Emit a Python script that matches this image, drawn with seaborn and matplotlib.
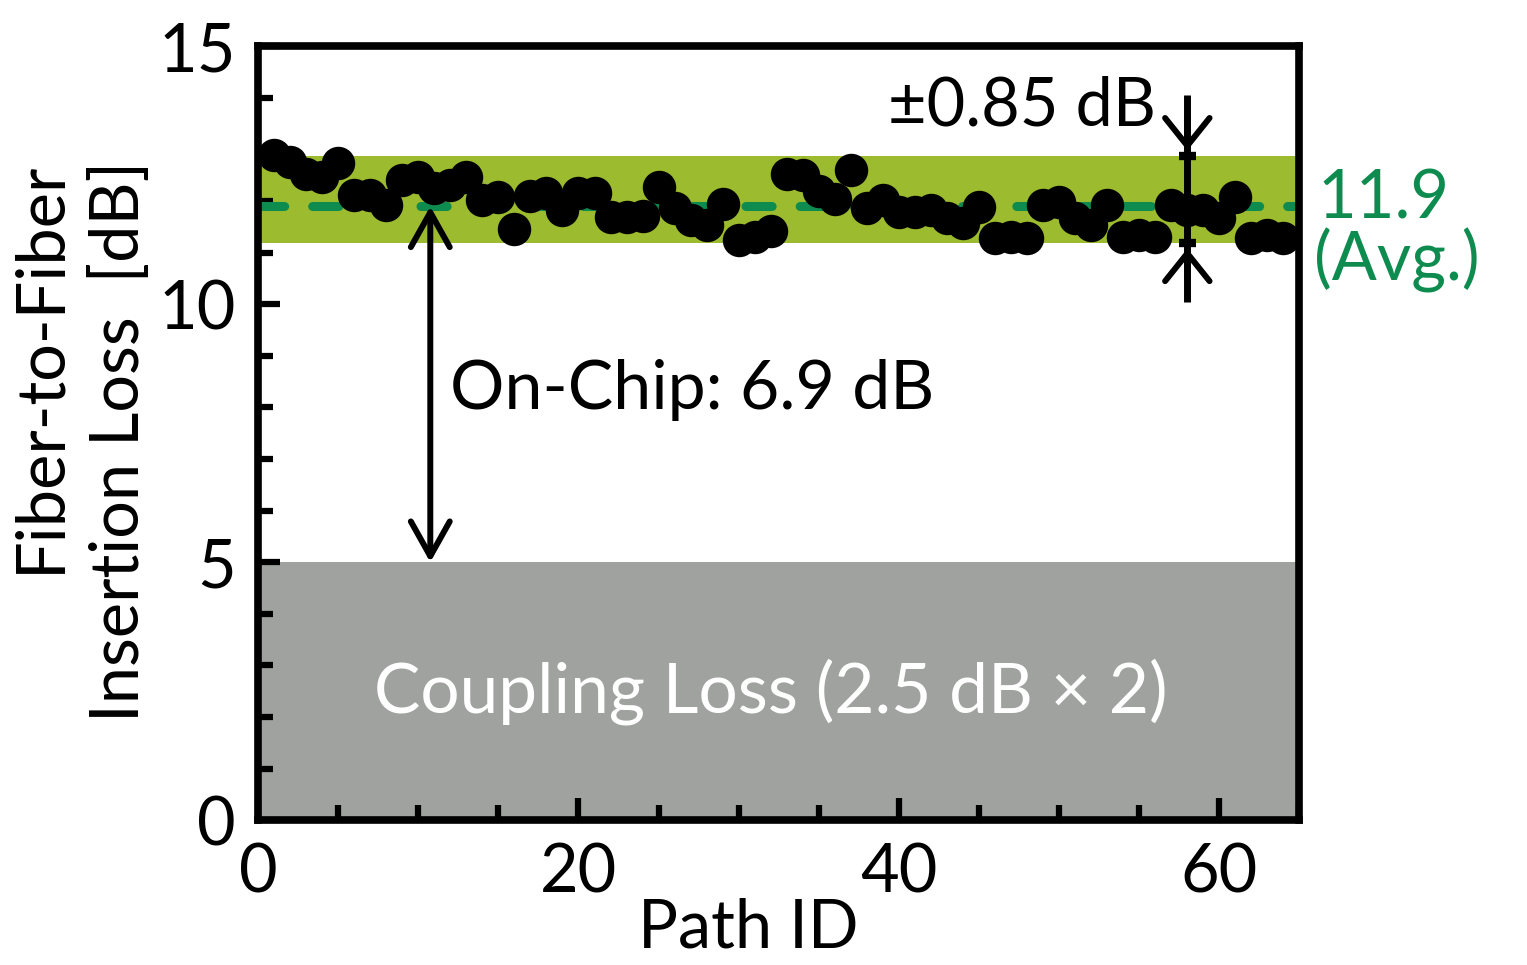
import matplotlib
matplotlib.use("Agg")
import matplotlib.pyplot as plt
from matplotlib.ticker import MultipleLocator, FixedLocator
import numpy as np
import pandas as pd
import seaborn as sns

# ---- data ----
path_id = list(range(1, 65))
loss_db = [12.90, 12.76, 12.53, 12.47, 12.73, 12.11, 12.11, 11.92, 12.40, 12.47,
           12.25, 12.31, 12.47, 12.02, 12.08, 11.45, 12.10, 12.15, 11.82, 12.15,
           12.15, 11.69, 11.69, 11.72, 12.27, 11.86, 11.63, 11.53, 11.95, 11.24,
           11.30, 11.43, 12.53, 12.50, 12.20, 12.05, 12.60, 11.86, 12.02, 11.78,
           11.78, 11.82, 11.67, 11.57, 11.88, 11.28, 11.30, 11.28, 11.92, 11.98,
           11.67, 11.53, 11.92, 11.30, 11.34, 11.30, 11.92, 11.82, 11.82, 11.67,
           12.07, 11.28, 11.34, 11.28]
avg_db = 11.9
band_low, band_high = 11.18, 12.88
coupling_db = 5.0
x_major = [0, 20, 40, 60]
y_major = [0, 5, 10, 15]

df = pd.DataFrame({"Path ID": path_id, "Loss": loss_db})

sns.set_theme(style="white")
plt.rcParams["font.family"] = ["Lato", "DejaVu Sans"]
FS = 48

fig = plt.figure(figsize=(15.27, 9.65), dpi=100)
ax = fig.add_axes([0.169, 0.150, 0.682, 0.802])

ax.axhspan(0, coupling_db, color="#a0a2a0", zorder=0, lw=0)
ax.axhspan(band_low, band_high, color="#9dbb2e", zorder=0, lw=0)
ax.axhline(avg_db, color="#0e8c4f", lw=6.5, dashes=(2.9, 3.1),
           dash_capstyle="round", zorder=2)

sns.scatterplot(data=df, x="Path ID", y="Loss", color="black", s=580,
                linewidth=0, ax=ax, zorder=3, legend=False)

ax.set_xlim(0, 65)
ax.set_ylim(0, 15)
ax.xaxis.set_major_locator(FixedLocator(x_major))
ax.xaxis.set_minor_locator(MultipleLocator(5))
ax.yaxis.set_major_locator(FixedLocator(y_major))
ax.yaxis.set_minor_locator(MultipleLocator(1))
ax.tick_params(axis="both", which="both", direction="in", colors="black",
               labelsize=FS, bottom=True, left=True, top=False, right=False)
ax.tick_params(axis="both", which="major", length=16, width=4.5, pad=16)
ax.tick_params(axis="both", which="minor", length=11, width=4.5)
for s in ax.spines.values():
    s.set_linewidth(5.5)
    s.set_color("black")
    s.set_zorder(5)

ax.set_xlabel("Path ID", fontsize=FS, color="black")
ax.xaxis.set_label_coords(0.471, -0.10)
ax.set_ylabel("Fiber-to-Fiber\nInsertion Loss  [dB]", fontsize=FS,
              color="black", multialignment="right", linespacing=1.35)
ax.yaxis.set_label_coords(-0.103, 0.49)

# annotations
arrow_kw = dict(color="black", lw=4.3, shrinkA=0, shrinkB=0, mutation_scale=1)
ax.annotate("", xy=(10.75, avg_db), xytext=(10.75, coupling_db),
            arrowprops=dict(arrowstyle="<->,head_length=25,head_width=14", **arrow_kw))
ax.text(12.0, 7.98, "On-Chip: 6.9 dB", fontsize=FS + 1, color="black",
        ha="left", va="baseline")
ax.text(32.0, 2.09, "Coupling Loss (2.5 dB × 2)", fontsize=FS + 2, color="white",
        ha="center", va="baseline")

xv = 58.0
ax.plot([xv, xv], [10.04, 14.05], color="black", lw=5, solid_capstyle="butt", zorder=4)
ax.plot([xv - 0.55, xv + 0.55], [band_high, band_high], color="black", lw=6,
        solid_capstyle="butt", zorder=4)
ax.plot([xv - 0.55, xv + 0.55], [band_low, band_low], color="black", lw=6,
        solid_capstyle="butt", zorder=4)
ax.annotate("", xy=(xv, 12.98), xytext=(xv, 13.6),
            arrowprops=dict(arrowstyle="->,head_length=20,head_width=16", **arrow_kw))
ax.annotate("", xy=(xv, 11.08), xytext=(xv, 10.5),
            arrowprops=dict(arrowstyle="->,head_length=20,head_width=16", **arrow_kw))
ax.text(56.06, 13.47, "±0.85 dB", fontsize=FS, color="black",
        ha="right", va="baseline")

ax.text(66.1, 11.66, "11.9", fontsize=FS, color="#0e8c4f", ha="left",
        va="baseline", clip_on=False)
ax.text(65.9, 10.47, "(Avg.)", fontsize=FS, color="#0e8c4f", ha="left",
        va="baseline", clip_on=False)

fig.savefig("out.png", dpi=100, facecolor="white")
